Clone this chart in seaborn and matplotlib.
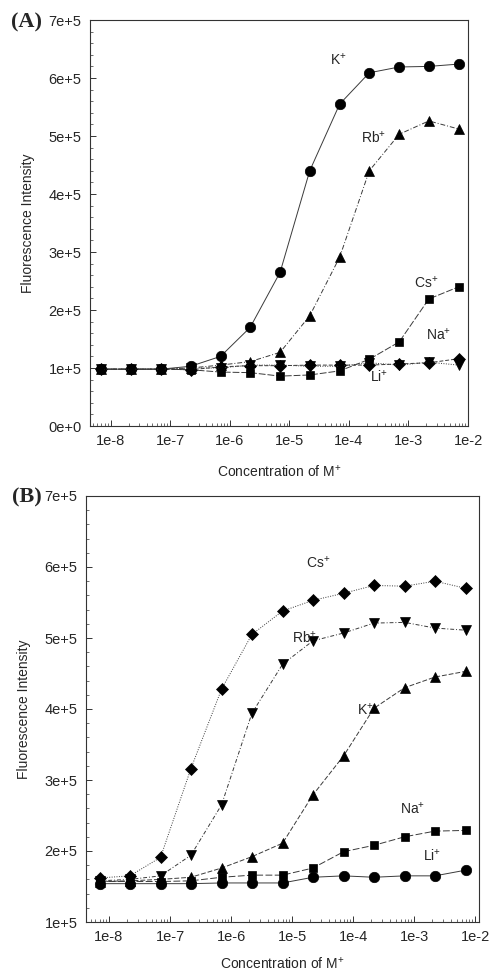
import numpy as np
import pandas as pd
import matplotlib
matplotlib.use("Agg")
import matplotlib.pyplot as plt
from matplotlib.ticker import MultipleLocator, LogLocator, NullFormatter
import seaborn as sns

sns.set_style("ticks")
plt.rcParams['font.family'] = ['Liberation Sans', 'DejaVu Sans']
plt.rcParams['mathtext.fontset'] = 'custom'
plt.rcParams['mathtext.rm'] = 'Liberation Sans'

# ---------------- data ----------------
conc = [7e-9, 2.2e-8, 7e-8, 2.2e-7, 7e-7, 2.2e-6, 7e-6, 2.2e-5, 7e-5, 2.2e-4, 7e-4, 2.2e-3, 7e-3]

# Panel A
a_K  = [0.98, 0.98, 0.98, 1.03, 1.20, 1.70, 2.65, 4.40, 5.55, 6.09, 6.19, 6.20, 6.24]
a_Rb = [0.98, 0.98, 0.98, 1.00, 1.05, 1.11, 1.27, 1.90, 2.91, 4.40, 5.03, 5.26, 5.12]
a_Cs = [0.98, 0.98, 0.98, 0.97, 0.93, 0.92, 0.86, 0.88, 0.95, 1.15, 1.45, 2.19, 2.40]
a_Na = [0.98, 0.98, 0.98, 0.97, 1.02, 1.04, 1.04, 1.05, 1.05, 1.05, 1.07, 1.09, 1.16]
a_Li = [0.98, 0.98, 0.98, 1.00, 1.00, 1.05, 1.05, 1.03, 1.03, 1.09, 1.05, 1.10, 1.05]

# Panel B
b_Cs = [1.62, 1.65, 1.91, 3.16, 4.28, 5.05, 5.38, 5.53, 5.63, 5.74, 5.73, 5.80, 5.70]
b_Rb = [1.58, 1.60, 1.65, 1.94, 2.65, 3.94, 4.63, 4.96, 5.07, 5.21, 5.22, 5.14, 5.11]
b_K  = [1.57, 1.58, 1.60, 1.63, 1.76, 1.92, 2.11, 2.79, 3.34, 4.01, 4.30, 4.45, 4.53]
b_Na = [1.57, 1.57, 1.57, 1.58, 1.63, 1.66, 1.66, 1.76, 1.99, 2.08, 2.20, 2.28, 2.29]
b_Li = [1.54, 1.54, 1.54, 1.54, 1.55, 1.55, 1.55, 1.63, 1.65, 1.63, 1.65, 1.65, 1.73]

scale = 1e5

xtick_vals = [1e-8, 1e-7, 1e-6, 1e-5, 1e-4, 1e-3, 1e-2]
xtick_labels = ["1e-8", "1e-7", "1e-6", "1e-5", "1e-4", "1e-3", "1e-2"]
a_ytick_vals = [0, 1e5, 2e5, 3e5, 4e5, 5e5, 6e5, 7e5]
a_ytick_labels = ["0e+0", "1e+5", "2e+5", "3e+5", "4e+5", "5e+5", "6e+5", "7e+5"]
b_ytick_vals = [1e5, 2e5, 3e5, 4e5, 5e5, 6e5, 7e5]
b_ytick_labels = ["1e+5", "2e+5", "3e+5", "4e+5", "5e+5", "6e+5", "7e+5"]

# series: (name, values, marker, markersize, linestyle)
series_a = [
    ("K", a_K, "o", 7.5, "-"),
    ("Rb", a_Rb, "^", 7.5, (0, (5, 2, 1, 2))),
    ("Cs", a_Cs, "s", 6.0, (0, (7, 2))),
    ("Na", a_Na, "D", 6.0, (0, (4, 2))),
    ("Li", a_Li, "v", 7.5, (0, (1, 1.5))),
]
series_b = [
    ("Cs", b_Cs, "D", 6.5, (0, (1, 1.5))),
    ("Rb", b_Rb, "v", 7.5, (0, (4, 2, 1, 2))),
    ("K", b_K, "^", 7.5, (0, (5, 2))),
    ("Na", b_Na, "s", 6.0, (0, (7, 2.5))),
    ("Li", b_Li, "o", 7.5, "-"),
]

labels_a = [("K", 6.6e-5, 6.31e5), ("Rb", 2.6e-4, 4.97e5), ("Cs", 1.95e-3, 2.47e5),
            ("Na", 3.2e-3, 1.57e5), ("Li", 3.2e-4, 0.86e5)]
labels_b = [("Cs", 2.7e-5, 6.06e5), ("Rb", 1.6e-5, 5.01e5), ("K", 1.6e-4, 3.99e5),
            ("Na", 9.6e-4, 2.60e5), ("Li", 2.0e-3, 1.94e5)]

fig = plt.figure(figsize=(4.95, 9.77), dpi=100)
axA = fig.add_axes([90/495, 1-426/977, 378/495, 406/977])
axB = fig.add_axes([86/495, 1-922/977, 393/495, 426/977])


def draw(ax, series, labels, xlim, ylim, yvals, ylabels, xpad):
    for name, vals, mk, ms, ls in series:
        df = pd.DataFrame({"conc": conc, "I": np.array(vals) * scale})
        sns.lineplot(data=df, x="conc", y="I", ax=ax, color="#3a3a3a", linewidth=0.7,
                     linestyle=ls, marker=mk, markersize=ms, markerfacecolor="black",
                     markeredgecolor="black", markeredgewidth=0.5, legend=False)
    for name, lx, ly in labels:
        ax.text(lx, ly, name + r"$^{+}$", ha="center", va="center", fontsize=10)
    ax.set_xscale("log")
    ax.set_xlim(*xlim)
    ax.set_ylim(*ylim)
    ax.set_xticks(xtick_vals)
    ax.set_xticklabels(xtick_labels)
    ax.xaxis.set_minor_locator(LogLocator(base=10, subs=np.arange(2, 10)))
    ax.xaxis.set_minor_formatter(NullFormatter())
    ax.set_yticks(yvals)
    ax.set_yticklabels(ylabels)
    ax.yaxis.set_minor_locator(MultipleLocator(2e4))
    ax.tick_params(which="both", direction="in", labelsize=10.5, color="#333333")
    ax.tick_params(which="major", length=4, width=0.7, pad=6)
    ax.tick_params(which="minor", length=2.5, width=0.5)
    for sp in ax.spines.values():
        sp.set_visible(True)
        sp.set_linewidth(0.8)
        sp.set_color("#333333")
    ax.set_xlabel("Concentration of M$^{+}$", fontsize=10, labelpad=xpad)
    ax.set_ylabel("Fluorescence Intensity", fontsize=10, labelpad=10)
    ax.grid(False)


draw(axA, series_a, labels_a, (4.5e-9, 1.0e-2), (0, 7e5), a_ytick_vals, a_ytick_labels, 11)
draw(axB, series_b, labels_b, (4.2e-9, 1.16e-2), (1e5, 7e5), b_ytick_vals, b_ytick_labels, 8)

fig.text(27/495, 1-22/977, "(A)", ha="center", va="center", fontsize=16,
         fontweight="bold", family="Liberation Serif")
fig.text(27/495, 1-497/977, "(B)", ha="center", va="center", fontsize=16,
         fontweight="bold", family="Liberation Serif")

fig.savefig("out.png", dpi=100, facecolor="white")
